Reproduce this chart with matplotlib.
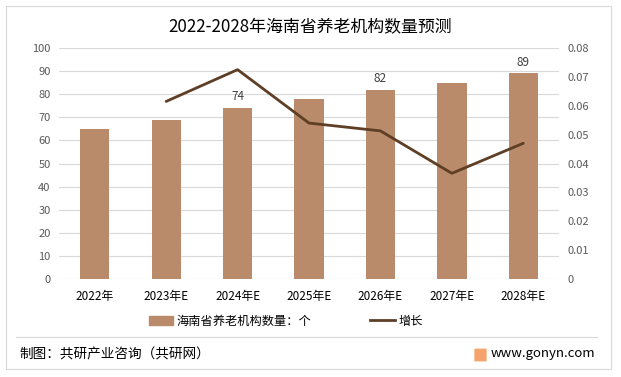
import matplotlib
matplotlib.use("Agg")
import matplotlib.pyplot as plt
from matplotlib.patches import Rectangle, FancyBboxPatch
from matplotlib.lines import Line2D
import numpy as np

plt.rcParams['font.family'] = ['Noto Sans CJK SC', 'DejaVu Sans']

categories = ["2022年", "2023年E", "2024年E", "2025年E", "2026年E", "2027年E", "2028年E"]
counts = [65, 69, 74, 78, 82, 85, 89]
growth = [None, 0.0615, 0.0725, 0.054, 0.0513, 0.0366, 0.047]
label_years = ["2024年E", "2026年E", "2028年E"]
title = "2022-2028年海南省养老机构数量预测"
bar_name = "海南省养老机构数量：个"
line_name = "增长"

bar_color = "#B98B6A"
line_color = "#5E3F25"
grid_color = "#D9D9D9"
tick_color = "#595959"

fig = plt.figure(figsize=(6.21, 3.77), dpi=100)
W, H = 621, 377

# outer frame
fig.add_artist(Rectangle((6 / W, 1 - 369 / H), (611 - 6) / W, (369 - 6) / H,
                         transform=fig.transFigure, fill=False, edgecolor="#D9D9D9", lw=0.8))

ax = fig.add_axes([59 / W, 1 - 279 / H, 500 / W, (279 - 48) / H])
x = np.arange(len(categories))
ax.bar(x, counts, width=0.41, color=bar_color, zorder=2)
ax.set_xlim(-0.5, len(categories) - 0.5)
ax.set_ylim(0, 100)
ax.set_yticks(np.arange(0, 101, 10))
ax.yaxis.grid(True, color=grid_color, lw=0.8, zorder=0)
ax.set_axisbelow(True)
for s in ax.spines.values():
    s.set_visible(False)
ax.tick_params(axis='both', length=0, colors=tick_color, labelsize=8)
ax.tick_params(axis='y', pad=6)
ax.set_xticks(x)
ax.set_xticklabels(categories, fontsize=8.5, color="#000000")
ax.tick_params(axis='x', pad=8)

for xi, c, cat in zip(x, counts, categories):
    if cat in label_years:
        ax.text(xi, c + 2, str(c), ha="center", va="bottom", fontsize=8.5, color="#404040")

ax2 = ax.twinx()
gx = [xi for xi, g in zip(x, growth) if g is not None]
gy = [g for g in growth if g is not None]
ax2.plot(gx, gy, color=line_color, lw=2.0, zorder=3, solid_capstyle="round")
ax2.set_ylim(0, 0.08)
ax2.set_yticks(np.arange(0, 0.081, 0.01))
ax2.set_yticklabels(["0"] + [f"{v:.2f}" for v in np.arange(0.01, 0.081, 0.01)])
for s in ax2.spines.values():
    s.set_visible(False)
ax2.tick_params(axis='y', length=0, colors=tick_color, labelsize=8, pad=6)

fig.text(0.5, 1 - 27 / H, title, ha="center", va="center", fontsize=12.2, color="#000000")

# legend
handles = [Rectangle((0, 0), 1, 1, color=bar_color), Line2D([0], [0], color=line_color, lw=2.0)]
fig.legend(handles, [bar_name, line_name], loc="center", bbox_to_anchor=(0.46, 1 - 321 / H),
           ncol=2, frameon=False, fontsize=8.8, handlelength=2.0, handleheight=0.7,
           columnspacing=4.8, handletextpad=0.3)

# footer
fig.add_artist(Line2D([16 / W, 597 / W], [1 - 337 / H, 1 - 337 / H], transform=fig.transFigure,
                      color="#D9D9D9", lw=0.8))
fig.text(19 / W, 1 - 354 / H, "制图：共研产业咨询（共研网）", ha="left", va="center", fontsize=9.8, color="#000000")
fig.add_artist(FancyBboxPatch((475 / W, 1 - 361 / H), 11 / W, 12 / H, boxstyle="round,pad=0.001",
                              transform=fig.transFigure, facecolor="#F5A36C", edgecolor="none"))
fig.text(491 / W, 1 - 354 / H, "www.gonyn.com", ha="left", va="center", fontsize=9.5, color="#000000")

fig.savefig("out.png", dpi=100)
